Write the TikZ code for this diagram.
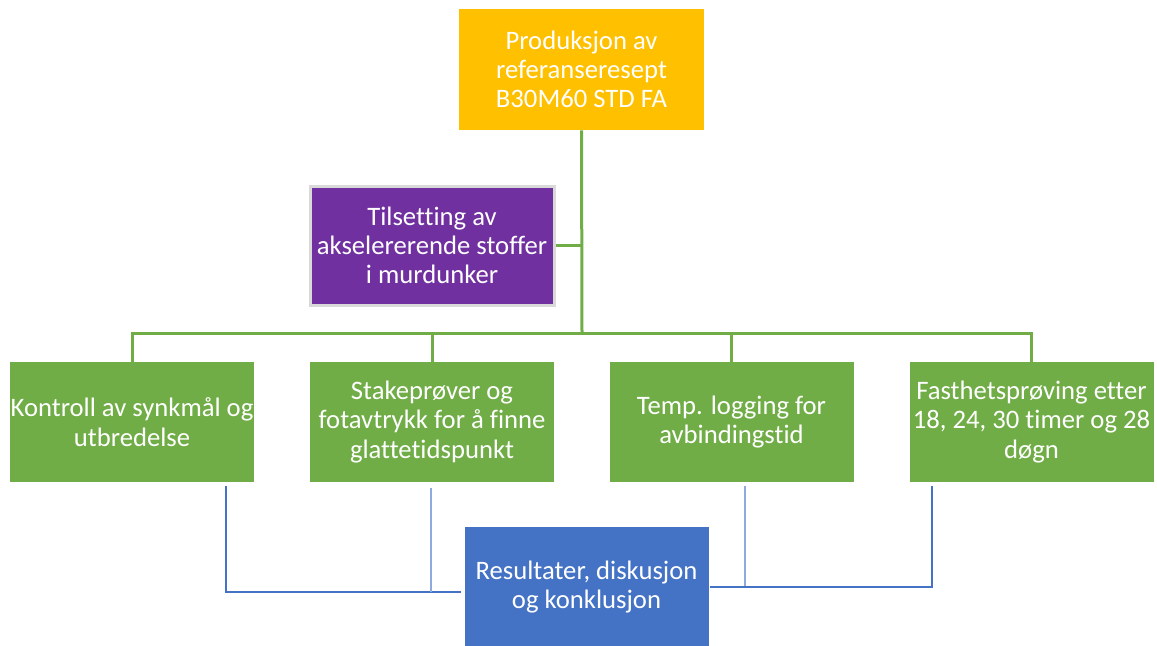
\documentclass[tikz,border=0pt]{standalone}
\usepackage{fontspec}
\setmainfont{Carlito}[Ligatures=NoCommon]
\definecolor{cOrange}{HTML}{FFC000}
\definecolor{cPurple}{HTML}{7030A0}
\definecolor{cGreen}{HTML}{70AD47}
\definecolor{cBlue}{HTML}{4472C4}
\definecolor{cBlueLight}{HTML}{8FAADC}
\definecolor{cGrayEdge}{HTML}{D9D9D9}
\begin{document}
\begin{tikzpicture}[x=0.75pt,y=-0.75pt,
  box/.style={text=white, align=center, inner sep=0pt,
    font=\fontsize{20}{22}\selectfont,
    minimum width=183pt, minimum height=90pt},
  tree/.style={draw=cGreen, line width=2.25pt},
  link/.style={draw=cBlue, line width=1pt},
  linklight/.style={draw=cBlueLight, line width=1pt}]
\useasboundingbox (0,0) rectangle (1157,646);

% boxes
\node[box, fill=cOrange, minimum width=183.75pt, minimum height=90.75pt] (top) at (581.5,69.5)
  {Produksjon av\\referanseresept\\B30M60 STD FA};
\node[box, fill=cPurple, draw=cGrayEdge, line width=2.25pt, minimum height=89.25pt] (add) at (432,245.5)
  {Tilsetting av\\akselererende stoffer\\i murdunker};
\node[box, fill=cGreen] (k1) at (132,422) {Kontroll av synkmål og\\utbredelse};
\node[box, fill=cGreen] (k2) at (432,422) {Stakeprøver og\\fotavtrykk for å finne\\glattetidspunkt};
\node[box, fill=cGreen] (k3) at (731.5,422) {Temp. logging for\\avbindingstid};
\node[box, fill=cGreen] (k4) at (1031.5,422) {Fasthetsprøving etter\\18, 24, 30 timer og 28\\døgn};
\node[box, fill=cBlue] (res) at (586.5,587) {Resultater, diskusjon\\og konklusjon};

% green tree
\coordinate (bus) at (582,333);
\draw[tree] (top.south) -- (bus);
\draw[tree] (add.east) -- (add.east -| bus);
\draw[tree] (k1.north) |- (bus) -| (k4.north);
\draw[tree] (k2.north) -- (k2.north |- bus);
\draw[tree] (k3.north) -- (k3.north |- bus);

% blue links to the result box
\coordinate (a1) at (226,486);
\coordinate (a2) at (431,488);
\coordinate (a3) at (745,486);
\coordinate (a4) at (932,486);
\coordinate (jl) at (461,592);
\coordinate (jr) at (710,587);
\draw[link] (a1) |- (jl);
\draw[linklight] (a2) -- (a2 |- jl);
\draw[linklight] (a3) -- (a3 |- jr);
\draw[link] (a4) |- (jr);
\end{tikzpicture}
\end{document}
